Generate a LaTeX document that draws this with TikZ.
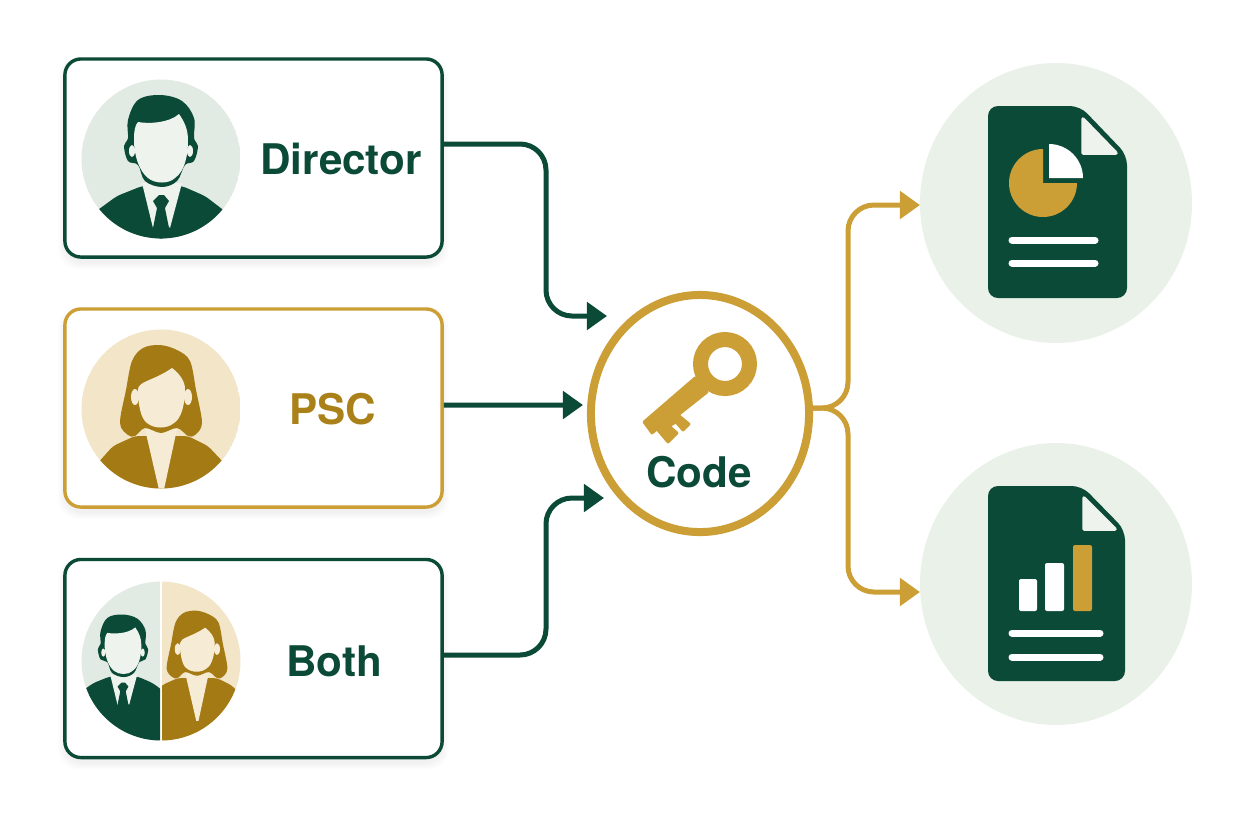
\documentclass[tikz,border=0pt]{standalone}
\usepackage{fontspec}
\setmainfont{TeX Gyre Heros}
\usetikzlibrary{arrows.meta}
\usetikzlibrary{shapes.geometric}

\definecolor{inkgreen}{HTML}{0B4A37}
\definecolor{palegreen}{HTML}{E2EBE3}
\definecolor{facegreen}{HTML}{EFF3EE}
\definecolor{softgreen}{HTML}{E9F1E9}
\definecolor{gold}{HTML}{CB9E36}
\definecolor{darkgold}{HTML}{A47A14}
\definecolor{palegold}{HTML}{F2E5C8}
\definecolor{facegold}{HTML}{F6ECD6}

\tikzset{
	cardbox/.style={draw, line width=3.4*0.2845pt, rounded corners=.16cm, fill=white, minimum width=3.77cm, minimum height=1.98cm, inner sep=0pt},
	cardtext/.style={font=\fontsize{12}{14}\selectfont\bfseries, inner sep=0pt},
	flow/.style={line width=5*0.2845pt, rounded corners=.26cm},
	greenflow/.style={flow, draw=inkgreen, -{Triangle[length=.2cm,width=.27cm]}},
	goldflow/.style={flow, draw=gold, -{Triangle[length=.2cm,width=.27cm]}},
	docline/.style={line width=7*0.2845pt, line cap=round, draw=white},
	manfig/.pic={
		\fill[inkgreen, rounded corners=.04cm] (-66,53) -- (-44,37) -- (-19,27) -- (21,27) -- (44,37) -- (65,53) -- (65,130) -- (-66,130) -- cycle;
		\fill[facegreen] (-19,24) -- (-8,69) -- (0,57) -- (9,69) -- (21,24) -- cycle;
		\fill[inkgreen] (-8,42) -- (-2,36) -- (3,36) -- (8,42) -- (4,49) -- (8,69) -- (0,85) -- (-8,69) -- (-4,49) -- cycle;
		\fill[inkgreen] plot [smooth cycle, tension=.6] coordinates {(-33,-21) (-33,-39) (-23,-59) (-1,-64) (21,-58) (33,-41) (33,-21) (37,-13) (33,2) (24,6) (16,22) (1,28) (-16,22) (-23,6) (-33,2) (-37,-13)};
		\fill[facegreen] (-27,-19) .. controls (-27,-28) and (-26,-34) .. (-23,-37) .. controls (-12,-35) and (8,-36) .. (18,-45) .. controls (23,-38) and (27,-30) .. (27,-19) .. controls (27,-4) and (24,12) .. (14,19) .. controls (8,25) and (-6,25) .. (-13,19) .. controls (-22,12) and (-27,-4) .. (-27,-19) -- cycle;
		\fill[facegreen] (-29,-8) ellipse [x radius=3, y radius=6];
		\fill[facegreen] (29,-8) ellipse [x radius=3, y radius=6];
	},
	womanfig/.pic={
		\fill[darkgold, rounded corners=.04cm] (-64,55) -- (-48,37) -- (-26,27) -- (27,27) -- (47,37) -- (64,55) -- (64,130) -- (-64,130) -- cycle;
		\fill[facegold] (-16,20) -- (-1,85) -- (2,85) -- (16,20) -- cycle;
		\fill[darkgold] plot [smooth cycle, tension=.55] coordinates {(-1,-64) (16,-59) (29,-48) (35,-19) (41,14) (34,26) (27,27) (16,19) (0,24) (-16,19) (-26,27) (-33,26) (-41,14) (-35,-19) (-29,-48) (-18,-61)};
		\fill[facegold] (-23,-20) .. controls (-22,-28) and (-8,-28) .. (11,-41) .. controls (18,-36) and (24,-28) .. (24,-20) .. controls (24,-4) and (20,10) .. (13,14) .. controls (6,20) and (-7,20) .. (-14,14) .. controls (-20,10) and (-23,-4) .. (-23,-20) -- cycle;
		\fill[facegold] (-26,-12) ellipse [x radius=4, y radius=8];
		\fill[facegold] (27,-12) ellipse [x radius=4, y radius=8];
	},
}

\begin{document}
\begin{tikzpicture}[x=.01cm, y=-.01cm]
	\useasboundingbox (0,0) rectangle (1248,832);

	% soft shadows under the cards
	\foreach \cy in {158, 408, 658.5} {
		\foreach \g in {1, ..., 7} {
			\fill[black, opacity=.007, rounded corners=.2cm] (65 - \g, \cy - 99 + 5 - \g) rectangle (442 + \g, \cy + 99 + 5 + \g);
		}
	}

	\node[cardbox, draw=inkgreen] (director) at (253.5, 158) {};
	\node[cardbox, draw=gold] (psc) at (253.5, 408) {};
	\node[cardbox, draw=inkgreen] (both) at (253.5, 658.5) {};

	\node[cardtext, text=inkgreen] (directortext) at (341, 159) {Director};
	\node[cardtext, text=darkgold!85!gold] (psctext) at (333, 409) {PSC};
	\node[cardtext, text=inkgreen] (bothtext) at (334, 661) {Both};

	% director portrait
	\begin{scope}
		\clip (161, 159) circle [radius=79.5];
		\fill[palegreen] (161, 159) circle [radius=79.5];
		\pic at (161, 159) {manfig};
	\end{scope}

	% psc portrait
	\begin{scope}
		\clip (161, 409) circle [radius=79.5];
		\fill[palegold] (161, 409) circle [radius=79.5];
		\pic at (161, 409) {womanfig};
	\end{scope}

	% both portrait, split in two halves
	\begin{scope}
		\clip (161, 661) circle [radius=79.5];
		\clip (80, 580) rectangle (160, 742);
		\fill[palegreen] (80, 580) rectangle (160, 742);
		\pic[scale=.68] at (123, 658) {manfig};
	\end{scope}
	\begin{scope}
		\clip (161, 661) circle [radius=79.5];
		\clip (162, 580) rectangle (242, 742);
		\fill[palegold] (162, 580) rectangle (242, 742);
		\pic[scale=.74] at (197, 658) {womanfig};
	\end{scope}

	% centre
	\node[draw=gold, line width=8*0.2845pt, ellipse, fill=white, minimum width=2.18cm, minimum height=2.37cm, inner sep=0pt] (code) at (700, 413.5) {};
	\node[cardtext, text=inkgreen] (codetext) at (699, 472) {Code};
	\fill[gold, draw=gold, line width=.8pt, line join=round] (695, 378) -- (644, 422) -- (652, 433) -- (657, 429) -- (668, 442) -- (677, 433) -- (669, 426) -- (676, 422) -- (683, 430) -- (689, 424) -- (678, 415) -- (707, 392) -- cycle;
	\draw[gold, line width=15*0.2845pt] (725, 364) circle [radius=24.5];

	% documents
	\fill[softgreen] (1056, 203) ellipse [x radius=136, y radius=140];
	\fill[softgreen] (1056, 584) ellipse [x radius=136, y radius=141];

	\fill[inkgreen, rounded corners=.1cm] (988, 106) -- (1080, 106) -- (1127, 155) -- (1127, 298) -- (988, 298) -- cycle;
	\fill[facegreen, draw=facegreen, line join=round, line width=1pt] (1083, 119) -- (1083, 153) -- (1116, 153) -- cycle;
	\fill[gold] (1043, 183) -- (1043, 149) arc [start angle=-90, delta angle=-270, radius=34] -- cycle;
	\fill[white] (1049, 178) -- (1049, 144) arc [start angle=-90, delta angle=90, radius=34] -- cycle;
	\draw[docline] (1012, 240) -- (1095, 240);
	\draw[docline] (1012, 263) -- (1095, 263);

	\fill[inkgreen, rounded corners=.1cm] (988, 486) -- (1082, 486) -- (1125, 530) -- (1125, 681) -- (988, 681) -- cycle;
	\fill[facegreen, draw=facegreen, line join=round, line width=1pt] (1084, 498) -- (1084, 529) -- (1115, 529) -- cycle;
	\fill[white, rounded corners=.02cm] (1019, 611) rectangle (1037, 579);
	\fill[white, rounded corners=.02cm] (1045, 611) rectangle (1064, 563);
	\fill[gold, rounded corners=.02cm] (1073, 611) rectangle (1092, 545);
	\draw[docline] (1012, 633) -- (1100, 633);
	\draw[docline] (1012, 657) -- (1100, 657);

	% connectors
	\coordinate (codea) at (607, 316);
	\coordinate (codeb) at (583, 405);
	\coordinate (codec) at (604, 498);
	\coordinate (forka) at (848, 408);
	\coordinate (chartdoc) at (920, 205);
	\coordinate (bardoc) at (920, 592);

	\draw[greenflow] ([yshift=.14cm]director.east) -| (546, 316) -- (codea);
	\draw[greenflow] ([yshift=.03cm]psc.east) -- (codeb);
	\draw[greenflow] ([yshift=.035cm]both.east) -| (546, 498) -- (codec);
	\draw[goldflow] ([yshift=.055cm]code.east) -- (forka) |- (chartdoc);
	\draw[goldflow] ([yshift=.055cm]code.east) -- (forka) |- (bardoc);
\end{tikzpicture}
\end{document}
